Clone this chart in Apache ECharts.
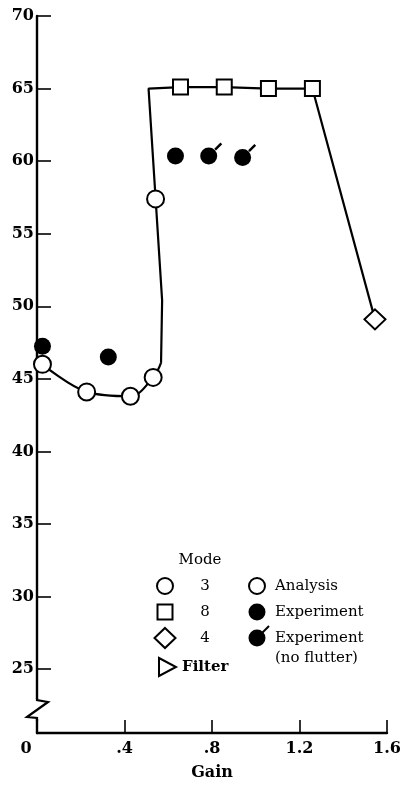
<!DOCTYPE html>
<html><head><meta charset="utf-8">
<script src="https://cdn.jsdelivr.net/npm/echarts@6/dist/echarts.min.js"></script>
<style>html,body{margin:0;padding:0;background:#fff}#c{width:410px;height:787px}</style>
</head><body><div id="c"></div>
<script>
// ---- data ----
const gainTicks = [0, 0.4, 0.8, 1.2, 1.6];
const analysisMode3 = [[0.025, 46.0], [0.227, 44.1], [0.427, 43.8], [0.531, 45.1], [0.542, 57.4]];
const analysisMode8 = [[0.656, 65.1], [0.856, 65.1], [1.058, 65.0], [1.259, 65.0]];
const analysisMode4 = [[1.545, 49.1]];
const experiment = [[0.025, 47.25], [0.326, 46.5], [0.633, 60.35]];
const experimentNoFlutter = [[0.785, 60.35], [0.940, 60.25]];
const curveLower = [[0.025, 46.0], [0.227, 44.1], [0.427, 43.8], [0.531, 45.1], [0.567, 46.1]];
const curveUpper = [[0.567, 46.1], [0.572, 50.4], [0.510, 65.0], [0.656, 65.1], [0.856, 65.1], [1.058, 65.0], [1.259, 65.0], [1.545, 49.1]];

const serif = 'DejaVu Serif';
const legendFont = '15px "DejaVu Serif"';
const black = '#000';

const chart = echarts.init(document.getElementById('c'), null, {renderer: 'canvas'});

function fmtGain(v) {
  if (Math.abs(v) < 1e-9) return '{z|0}';
  const s = (+v).toFixed(1);
  return v < 1 ? s.replace(/^0/, '') : s;
}

const tickPath = 'path://M0,5 L5,0 L6.4,1.4 L1.4,6.4 Z';

function txt(x, y, s, align, font) {
  return {type: 'text', x: x, y: y, style: {text: s, font: font || legendFont, fill: black, align: align || 'left', verticalAlign: 'middle'}};
}

const legendGraphics = [
  txt(200, 560, 'Mode', 'center'),
  // row 1
  {type: 'circle', shape: {cx: 165, cy: 586, r: 8}, style: {fill: '#fff', stroke: black, lineWidth: 2}},
  txt(205, 586, '3', 'center'),
  {type: 'circle', shape: {cx: 257, cy: 586, r: 8}, style: {fill: '#fff', stroke: black, lineWidth: 2}},
  txt(275, 586, 'Analysis'),
  // row 2
  {type: 'rect', shape: {x: 157.5, y: 604.5, width: 15, height: 15}, style: {fill: '#fff', stroke: black, lineWidth: 2}},
  txt(205, 612, '8', 'center'),
  {type: 'circle', shape: {cx: 257, cy: 612, r: 8.5}, style: {fill: black}},
  txt(275, 612, 'Experiment'),
  // row 3
  {type: 'polygon', shape: {points: [[165, 628], [175.5, 638], [165, 648], [154.5, 638]]}, style: {fill: '#fff', stroke: black, lineWidth: 2}},
  txt(205, 638, '4', 'center'),
  {type: 'circle', shape: {cx: 257, cy: 638, r: 8.5}, style: {fill: black}},
  {type: 'line', shape: {x1: 262, y1: 633, x2: 269, y2: 626}, style: {stroke: black, lineWidth: 2}},
  txt(275, 638, 'Experiment'),
  txt(275, 658, '(no flutter)'),
  // row 4
  {type: 'polygon', shape: {points: [[159, 658], [176, 667], [159, 676]]}, style: {fill: '#fff', stroke: black, lineWidth: 2}},
  txt(182, 667, 'Filter', 'left', 'bold 15px "DejaVu Serif"')
];

const axisBreak = [
  {type: 'rect', shape: {x: 30, y: 699, width: 16, height: 20}, style: {fill: '#fff'}, z: 100},
  {type: 'polyline', shape: {points: [[37, 698], [37, 700], [48, 702], [27, 717], [37, 718], [37, 721]]}, style: {stroke: black, lineWidth: 2.2, fill: null}, z: 101}
];

chart.setOption({
  animation: false,
  backgroundColor: '#fff',
  grid: {left: 37, right: 23, top: 16, bottom: 54, containLabel: false},
  xAxis: {
    type: 'value', min: gainTicks[0], max: gainTicks[gainTicks.length - 1], interval: 0.4,
    name: 'Gain', nameLocation: 'middle', nameGap: 32,
    nameTextStyle: {fontFamily: serif, fontSize: 16, fontWeight: 'bold', color: black},
    axisLine: {show: true, onZero: false, lineStyle: {color: black, width: 2.4}},
    axisTick: {show: true, inside: true, length: 13, lineStyle: {color: black, width: 1.6}},
    axisLabel: {margin: 8, fontFamily: serif, fontSize: 16, fontWeight: 'bold', color: black, formatter: fmtGain,
      rich: {z: {padding: [0, 22, 0, 0], fontFamily: serif, fontSize: 16, fontWeight: 'bold', color: black}}},
    splitLine: {show: false}
  },
  yAxis: {
    type: 'value', min: 20.6, max: 70, splitNumber: 10, minInterval: 5, maxInterval: 5,
    axisLine: {show: true, lineStyle: {color: black, width: 2.4}},
    axisTick: {show: true, inside: true, length: 14, lineStyle: {color: black, width: 1.6}},
    axisLabel: {showMinLabel: false, margin: 3, fontFamily: serif, fontSize: 16, fontWeight: 'bold', color: black},
    splitLine: {show: false}
  },
  graphic: legendGraphics.concat(axisBreak),
  series: [
    {type: 'line', data: curveLower, smooth: 0.35, showSymbol: false, symbol: 'none', lineStyle: {color: black, width: 2.2}, z: 2, silent: true},
    {type: 'line', data: curveUpper, smooth: false, showSymbol: false, symbol: 'none', lineStyle: {color: black, width: 2.2}, z: 2, silent: true},
    {name: 'Mode 3', type: 'scatter', data: analysisMode3, symbol: 'circle', symbolSize: 17, itemStyle: {color: '#fff', borderColor: black, borderWidth: 2, opacity: 1}, z: 5},
    {name: 'Mode 8', type: 'scatter', data: analysisMode8, symbol: 'rect', symbolSize: 15, itemStyle: {color: '#fff', borderColor: black, borderWidth: 2, opacity: 1}, z: 5},
    {name: 'Mode 4', type: 'scatter', data: analysisMode4, symbol: 'diamond', symbolSize: [21, 20], itemStyle: {color: '#fff', borderColor: black, borderWidth: 2, opacity: 1}, z: 5},
    {name: 'Experiment', type: 'scatter', data: experiment, symbol: 'circle', symbolSize: 17, itemStyle: {color: black, opacity: 1}, z: 5},
    {name: 'Experiment (no flutter)', type: 'scatter', data: experimentNoFlutter, symbol: 'circle', symbolSize: 17, itemStyle: {color: black, opacity: 1}, z: 5},
    {name: 'no flutter tick', type: 'scatter', data: experimentNoFlutter, symbol: tickPath, symbolSize: 8, symbolKeepAspect: true, symbolOffset: [9.5, -9.5], itemStyle: {color: black, opacity: 1}, z: 5, silent: true}
  ]
});
</script></body></html>
